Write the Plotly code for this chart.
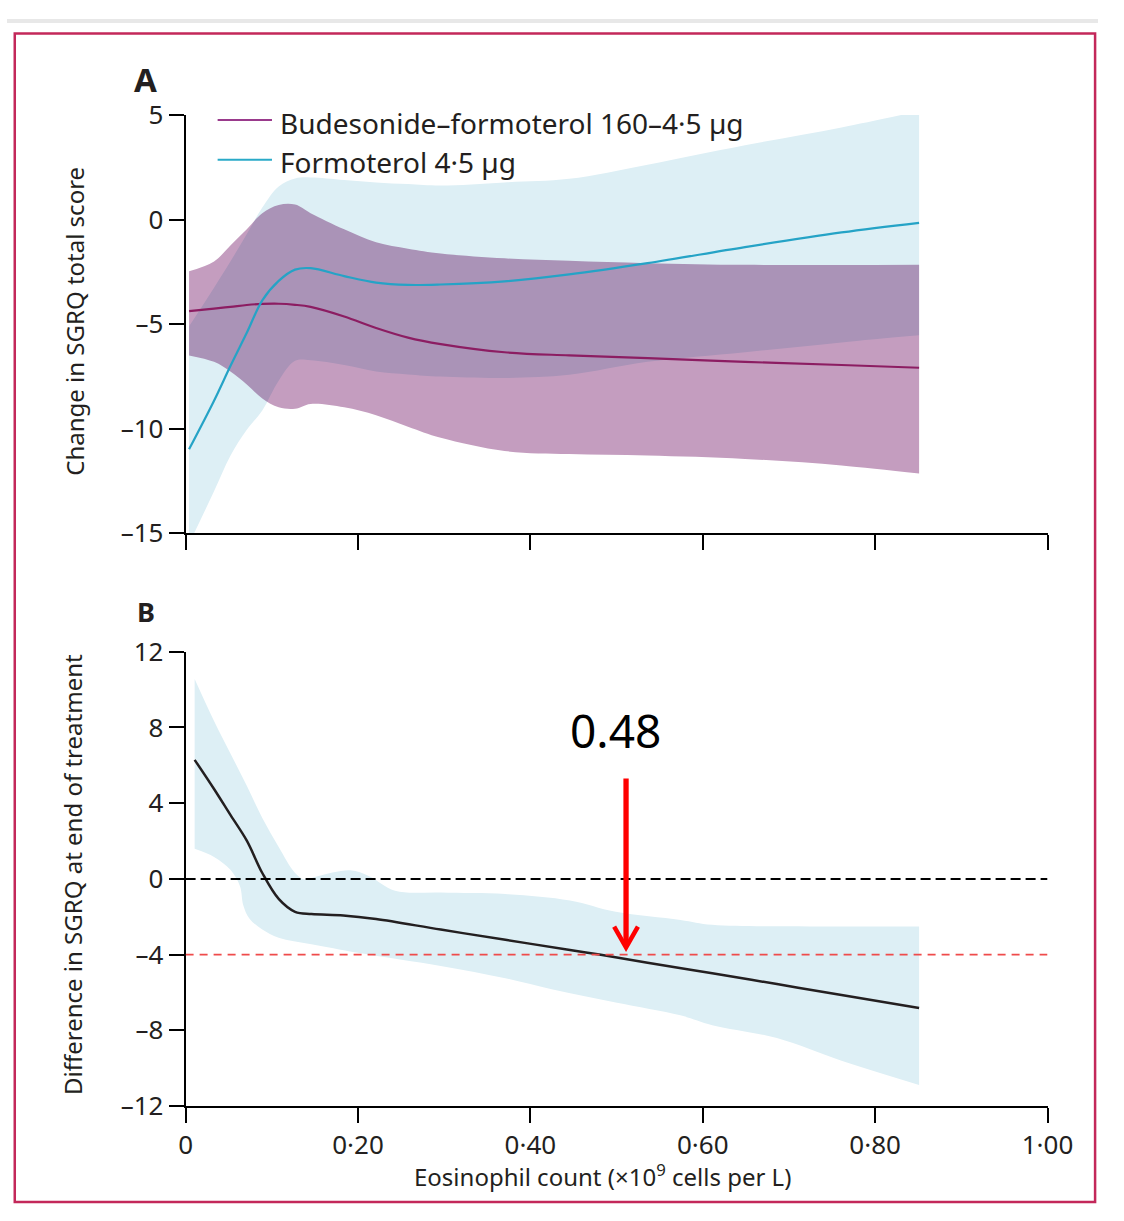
import plotly.graph_objects as go

# ---------------- data ----------------
# Panel A: change in SGRQ total score vs eosinophil count (x10^9 cells per L)
A_X = [0.004, 0.033, 0.052, 0.071, 0.089, 0.108, 0.127, 0.145, 0.184, 0.221,
       0.258, 0.296, 0.370, 0.445, 0.536, 0.649, 0.761, 0.851]
BUD_MEAN = [-4.37, -4.25, -4.17, -4.08, -4.03, -4.02, -4.07, -4.17, -4.63, -5.18,
            -5.64, -5.95, -6.34, -6.49, -6.62, -6.80, -6.95, -7.08]
BUD_UPPER = [-2.47, -2.0, -1.23, -0.46, 0.31, 0.70, 0.72, 0.31, -0.46, -1.08,
             -1.39, -1.62, -1.85, -1.97, -2.08, -2.16, -2.17, -2.16]
BUD_LOWER = [-6.49, -6.8, -7.26, -7.88, -8.55, -8.97, -9.04, -8.81, -8.97, -9.35,
             -9.9, -10.43, -11.06, -11.21, -11.28, -11.44, -11.75, -12.14]
FOR_MEAN = [-10.98, -8.66, -7.0, -5.41, -3.86, -2.93, -2.39, -2.32, -2.70, -3.01,
            -3.12, -3.10, -2.95, -2.62, -2.08, -1.31, -0.61, -0.15]
FOR_UPPER = [-5.1, -3.25, -2.0, -0.69, 0.58, 1.59, 1.97, 2.02, 1.9, 1.78,
             1.7, 1.63, 1.78, 1.95, 2.63, 3.56, 4.41, 5.19]
FOR_LOWER = [-15.5, -12.99, -11.29, -10.05, -9.12, -7.7, -6.75, -6.72, -6.95, -7.26,
             -7.4, -7.5, -7.57, -7.42, -6.80, -6.34, -5.87, -5.53]

# Panel B: treatment difference in SGRQ at end of treatment
DIFF_X = [0.0105, 0.033, 0.052, 0.071, 0.089, 0.108, 0.127, 0.146, 0.183, 0.221,
          0.296, 0.371, 0.446, 0.48, 0.536, 0.611, 0.686, 0.761, 0.851]
DIFF_MEAN = [6.29, 4.75, 3.38, 2.02, 0.31, -1.06, -1.74, -1.86, -1.93, -2.12,
             -2.68, -3.22, -3.76, -4.0, -4.43, -4.99, -5.56, -6.14, -6.82]
DIFF_UP_X = [0.0105, 0.033, 0.052, 0.071, 0.089, 0.108, 0.127, 0.138, 0.153, 0.191,
             0.213, 0.243, 0.296, 0.371, 0.446, 0.499, 0.574, 0.611, 0.724, 0.851]
DIFF_UPPER = [10.56, 8.34, 6.63, 4.92, 3.22, 1.68, 0.31, -0.03, 0.14, 0.45,
              0.14, -0.63, -0.72, -0.80, -1.14, -1.74, -2.17, -2.43, -2.51, -2.51]
DIFF_LO_X = [0.0105, 0.033, 0.052, 0.063, 0.067, 0.074, 0.089, 0.108, 0.146, 0.2,
             0.296, 0.371, 0.426, 0.499, 0.574, 0.611, 0.686, 0.761, 0.851]
DIFF_LOWER = [1.59, 1.16, 0.48, -0.37, -1.40, -2.09, -2.68, -3.11, -3.45, -3.9,
              -4.6, -5.25, -5.85, -6.53, -7.21, -7.73, -8.41, -9.61, -10.89]

NULL_LINE = 0
MCID_LINE = -4
THRESHOLD_LABEL = "0.48"

X_TICKS = [0, 0.2, 0.4, 0.6, 0.8, 1.0]
X_TICKTEXT = ["0", "0·20", "0·40", "0·60", "0·80", "1·00"]
A_YTICKS = [-15, -10, -5, 0, 5]
A_YTICKTEXT = ["–15", "–10", "–5", "0", "5"]
B_YTICKS = [-12, -8, -4, 0, 4, 8, 12]
B_YTICKTEXT = ["–12", "–8", "–4", "0", "4", "8", "12"]

SERIES_BUD = "Budesonide–formoterol 160–4·5 µg"
SERIES_FOR = "Formoterol 4·5 µg"

# ---------------- style ----------------
W, H = 1124, 1221
FONT = "Noto Sans"
INK = "#231F20"
CYAN_FILL = "#DDEFF5"
PINK_FILL = "#C49DBF"
BUD_LINE = "#8C1D62"
FOR_LINE = "#25A3C6"
LEG_BUD = "#9A3A8C"
LEG_FOR = "#2AAAC8"
ARROW_RED = "#FF0000"


def px(x):
    return x / W


def py(y):
    return 1 - y / H


fig = go.Figure()


def band(x_lo, lo, x_hi, hi, color, xa, ya):
    fig.add_trace(go.Scatter(x=x_lo, y=lo, mode="lines", line=dict(width=0, shape="spline"),
                             xaxis=xa, yaxis=ya, showlegend=False, hoverinfo="skip"))
    fig.add_trace(go.Scatter(x=x_hi, y=hi, mode="lines", line=dict(width=0, shape="spline"),
                             fill="tonexty", fillcolor=color,
                             xaxis=xa, yaxis=ya, showlegend=False, hoverinfo="skip"))


# Panel A bands and lines
band(A_X, FOR_LOWER, A_X, FOR_UPPER, CYAN_FILL, "x", "y")
band(A_X, BUD_LOWER, A_X, BUD_UPPER, PINK_FILL, "x", "y")
fig.add_trace(go.Scatter(x=A_X, y=BUD_MEAN, mode="lines", name=SERIES_BUD,
                         line=dict(color=BUD_LINE, width=2.2, shape="spline"),
                         xaxis="x", yaxis="y", showlegend=False))
fig.add_trace(go.Scatter(x=A_X, y=FOR_MEAN, mode="lines", name=SERIES_FOR,
                         line=dict(color=FOR_LINE, width=2.2, shape="spline"),
                         xaxis="x", yaxis="y", showlegend=False))

# Panel B band and line
band(DIFF_LO_X, DIFF_LOWER, DIFF_UP_X, DIFF_UPPER, CYAN_FILL, "x2", "y2")
fig.add_trace(go.Scatter(x=DIFF_X, y=DIFF_MEAN, mode="lines",
                         line=dict(color=INK, width=2.5, shape="spline"),
                         xaxis="x2", yaxis="y2", showlegend=False))

x_dom = [px(184), px(1072)]
axis_common = dict(showline=True, linewidth=2, linecolor="black", ticks="outside",
                   ticklen=15, tickwidth=2, tickcolor="black", showgrid=False,
                   zeroline=False, tickfont=dict(family=FONT, size=26, color=INK))

fig.update_layout(
    width=W, height=H, margin=dict(l=0, r=0, t=0, b=0),
    paper_bgcolor="white", plot_bgcolor="white",
    font=dict(family=FONT, color=INK),
    xaxis=dict(domain=x_dom, range=[0, 1], anchor="y", tickvals=X_TICKS,
               showticklabels=False, **axis_common),
    yaxis=dict(domain=[py(530), py(99)], range=[-15, 5], anchor="x",
               tickvals=A_YTICKS, ticktext=A_YTICKTEXT, **axis_common),
    xaxis2=dict(domain=x_dom, range=[0, 1], anchor="y2", tickvals=X_TICKS,
                ticktext=X_TICKTEXT, **axis_common),
    yaxis2=dict(domain=[py(1120), py(652)], range=[-12, 12], anchor="x2",
                tickvals=B_YTICKS, ticktext=B_YTICKTEXT, **axis_common),
)

# call-out arrow pointing down at the crossing of the -4 line
ARROW_X = 0.511
ARROW_TOP = 5.3
ARROW_TIP = -3.62
HEAD_DX = 0.0138
HEAD_DY = 1.1

shapes = [
    # light strip along the top edge
    dict(type="rect", xref="paper", yref="paper", x0=0, x1=1, y0=py(4), y1=1,
         fillcolor="#E8E8E8", line=dict(width=0), layer="below"),
    # figure frame
    dict(type="rect", xref="paper", yref="paper", x0=px(8), x1=px(1121),
         y0=py(1219), y1=py(15), line=dict(color="#C3285A", width=2.5)),
    # legend keys
    dict(type="line", xref="paper", yref="paper", x0=px(217), x1=px(273),
         y0=py(104), y1=py(104), line=dict(color=LEG_BUD, width=2)),
    dict(type="line", xref="paper", yref="paper", x0=px(217), x1=px(273),
         y0=py(145), y1=py(145), line=dict(color=LEG_FOR, width=2)),
    # reference lines in panel B
    dict(type="line", xref="x2", yref="y2", x0=0, x1=1, y0=NULL_LINE, y1=NULL_LINE,
         line=dict(color="black", width=2, dash="10px,5px")),
    dict(type="line", xref="x2", yref="y2", x0=0, x1=1, y0=MCID_LINE, y1=MCID_LINE,
         line=dict(color="#EF4B4B", width=1.6, dash="8px,6px")),
    # arrow shaft and open head
    dict(type="line", xref="x2", yref="y2", x0=ARROW_X, x1=ARROW_X,
         y0=ARROW_TOP, y1=ARROW_TIP + 0.15, line=dict(color=ARROW_RED, width=5.3)),
    dict(type="path", xref="x2", yref="y2",
         path=(f"M {ARROW_X - HEAD_DX},{ARROW_TIP + HEAD_DY} "
               f"L {ARROW_X},{ARROW_TIP} L {ARROW_X + HEAD_DX},{ARROW_TIP + HEAD_DY}"),
         line=dict(color=ARROW_RED, width=4.5)),
]
fig.update_layout(shapes=shapes)

ann = [
    dict(text="<b>A</b>", x=px(143), y=py(62), font=dict(size=33, color=INK)),
    dict(text="<b>B</b>", x=px(143), y=py(611), font=dict(size=27, color=INK)),
    dict(text=SERIES_BUD, x=px(279), y=py(107), xanchor="left",
         font=dict(size=28, color=INK)),
    dict(text=SERIES_FOR, x=px(279), y=py(147), xanchor="left",
         font=dict(size=28, color=INK)),
    dict(text="Change in SGRQ total score", x=px(70), y=py(311), textangle=-90,
         font=dict(size=24, color=INK)),
    dict(text="Difference in SGRQ at end of treatment", x=px(68), y=py(882),
         textangle=-90, font=dict(size=24, color=INK)),
    dict(text="Eosinophil count (×10<sup>9</sup> cells per L)", x=px(614), y=py(1192),
         font=dict(size=24, color=INK)),
]
for a in ann:
    a.setdefault("xref", "paper")
    a.setdefault("yref", "paper")
    a.setdefault("xanchor", "center")
    a.setdefault("yanchor", "middle")
    a["showarrow"] = False
    a["font"]["family"] = FONT

# threshold label in panel B
ann.append(dict(text=THRESHOLD_LABEL, xref="x2", yref="y2", x=0.499, y=7.85,
                showarrow=False, font=dict(family=FONT, size=46, color="black")))
fig.update_layout(annotations=ann)

# page pinned to the top-left corner; overlap of the two confidence bands uses multiply blending
PAGE_JS = """
(function(){
  var st = document.createElement('style');
  st.textContent = 'html,body{margin:0;padding:0;overflow:hidden;background:#fff;}';
  document.head.appendChild(st);
  var gd = document.getElementById('{plot_id}');
  function blend(){
    gd.querySelectorAll('path.js-fill').forEach(function(p){
      var f = (p.style.fill || '').replace(/\\s/g, '');
      if (f === 'rgb(196,157,191)') { p.style.mixBlendMode = 'multiply'; }
    });
  }
  blend();
  if (gd.on) { gd.on('plotly_afterplot', blend); }
})();
"""

fig.write_html("out.html", post_script=PAGE_JS, config={"displayModeBar": False})
